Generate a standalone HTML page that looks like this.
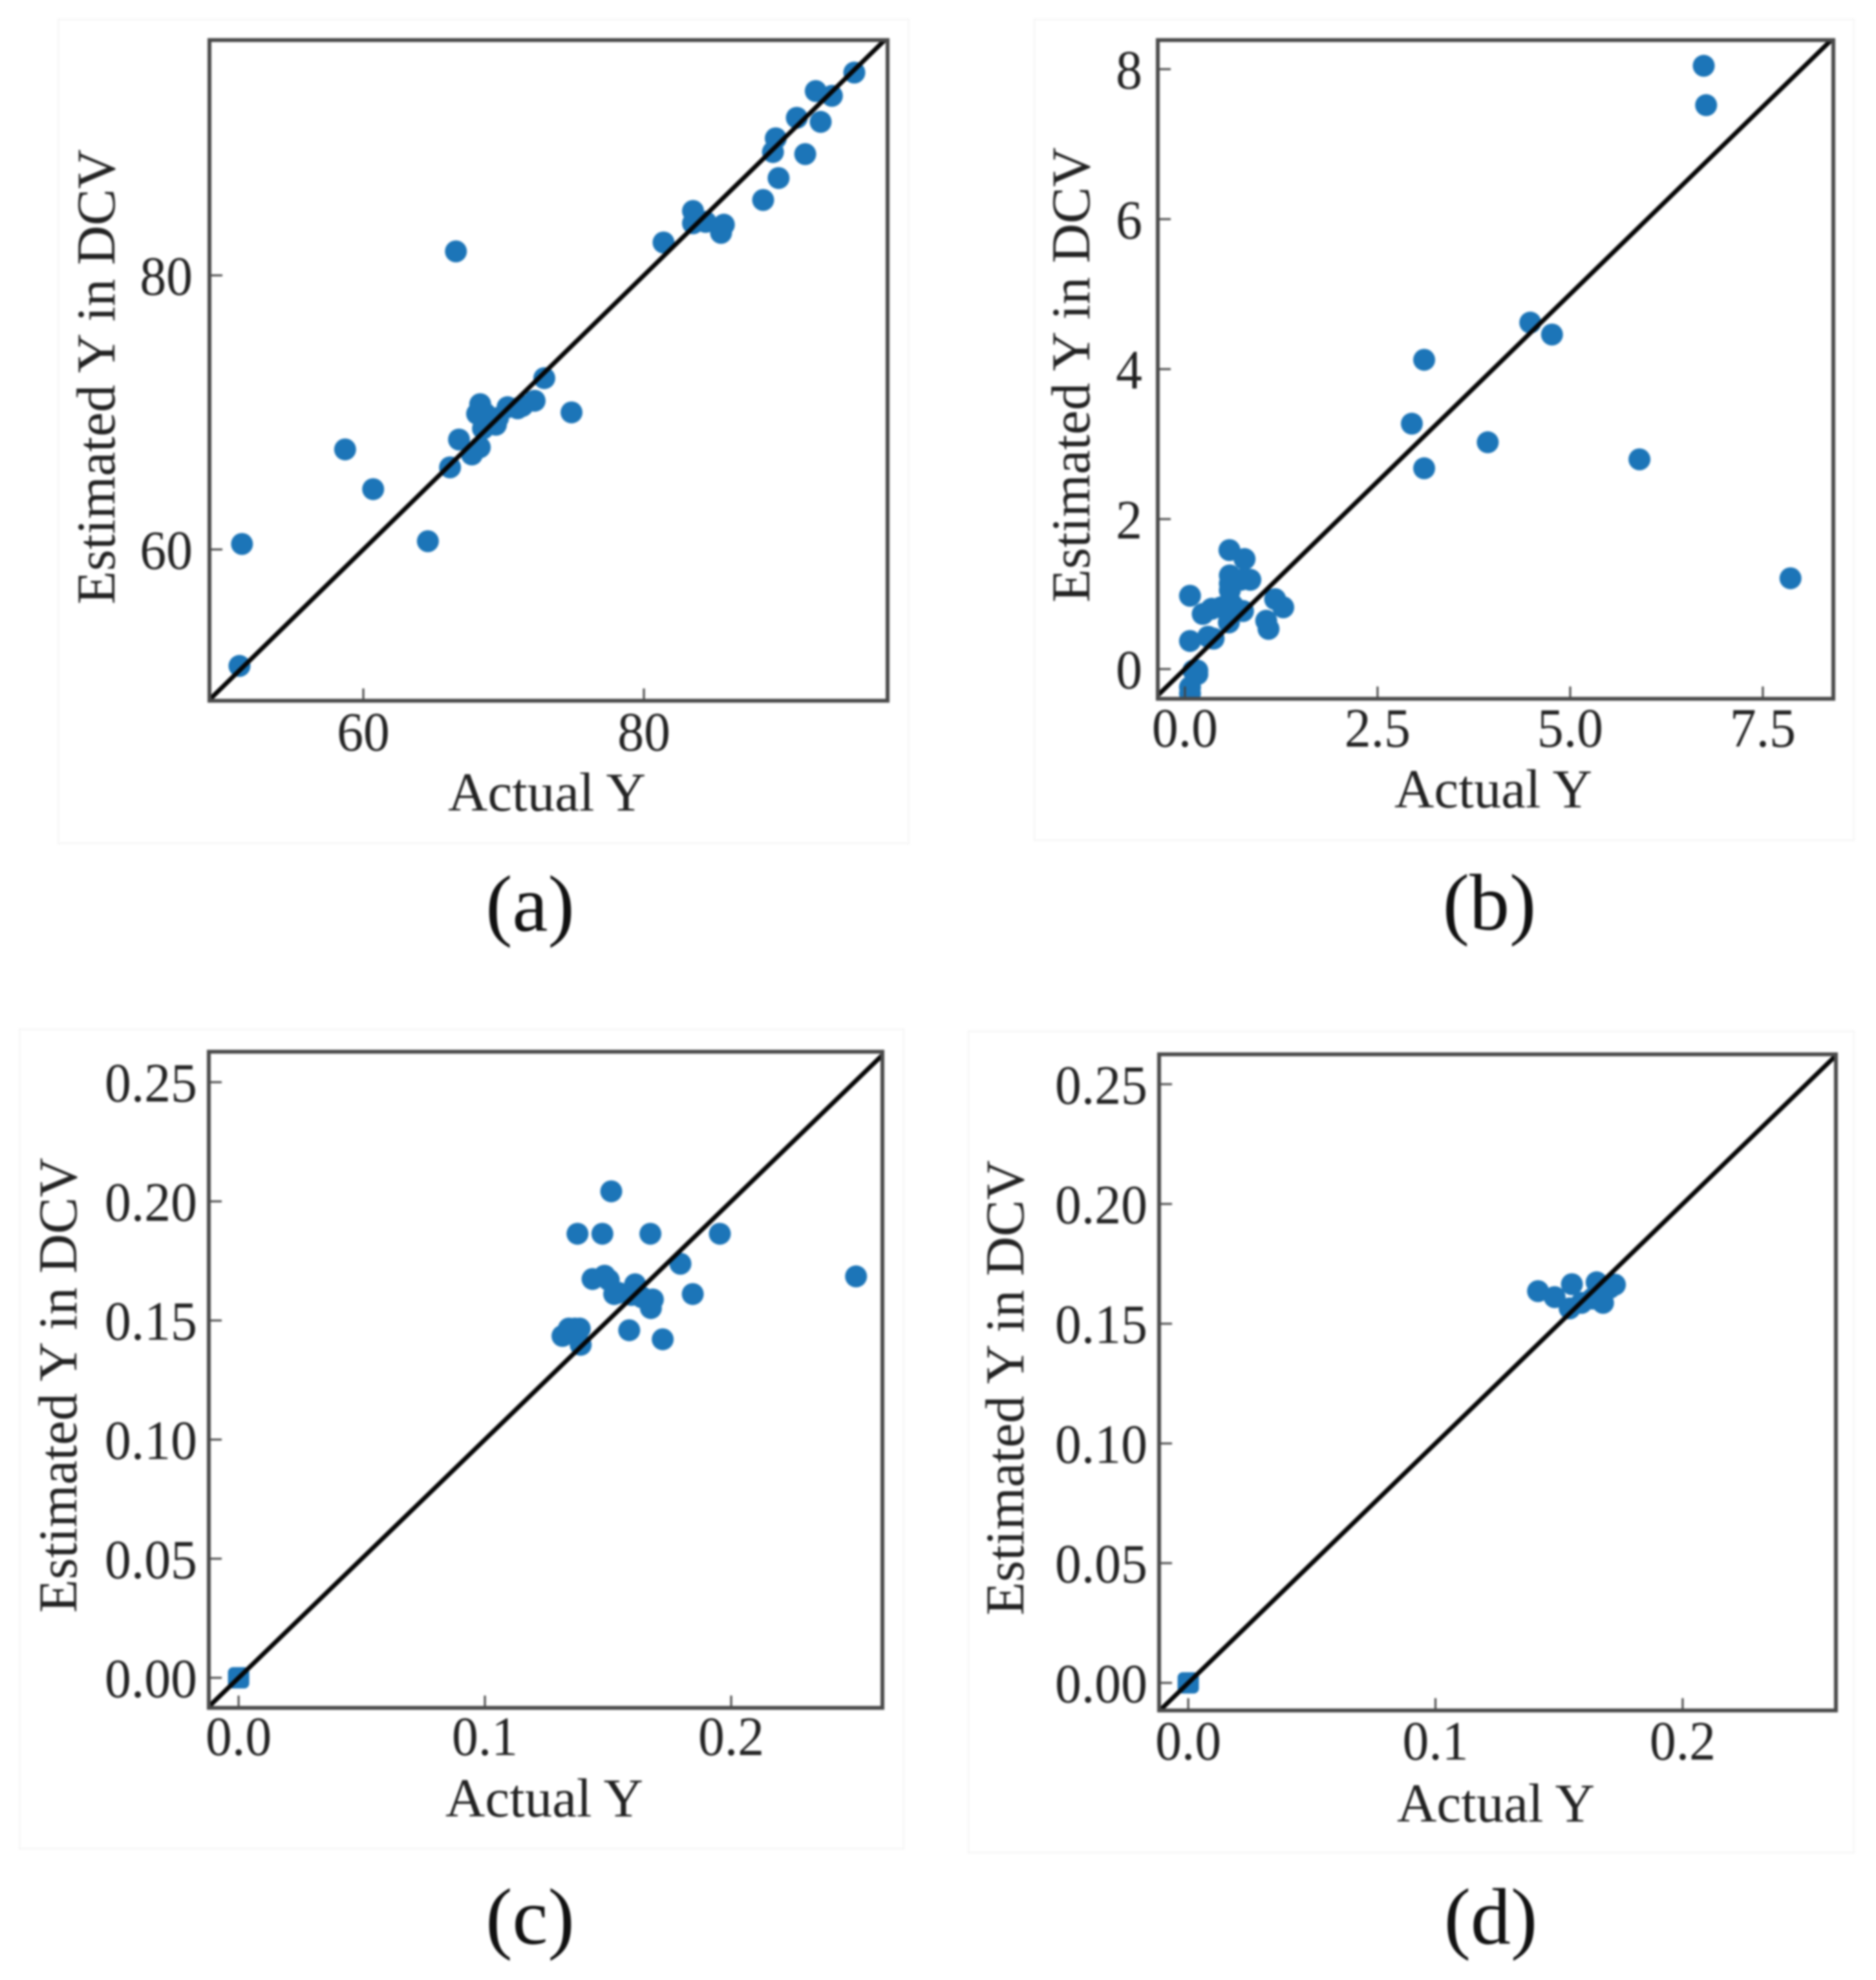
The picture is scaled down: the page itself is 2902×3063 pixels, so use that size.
<!DOCTYPE html>
<html lang="en">
<head>
<meta charset="utf-8">
<title>Actual Y versus Estimated Y in DCV</title>
<style>
html,body{margin:0;padding:0;background:#fff;width:2902px;height:3063px;overflow:hidden}
svg{display:block;filter:blur(1.5px)}
text{font-family:"Liberation Serif",serif;fill:#222}
.cap{font-size:124px;fill:#111;text-anchor:middle}
.axt{font-size:85px}
.tick{font-size:86px}
</style>
</head>
<body>
<svg id="figure" xmlns="http://www.w3.org/2000/svg" width="2902" height="3063" viewBox="0 0 2902 3063">
  <rect x="90" y="30" width="1316" height="1275" fill="#fff" stroke="#f3f3f3" stroke-width="2"/>
  <rect x="1600" y="30" width="1268" height="1270" fill="#fff" stroke="#f3f3f3" stroke-width="2"/>
  <rect x="30" y="1592" width="1368" height="1268" fill="#fff" stroke="#f3f3f3" stroke-width="2"/>
  <rect x="1498" y="1595" width="1370" height="1271" fill="#fff" stroke="#f3f3f3" stroke-width="2"/>

  <g id="panel-a"></g>
  <g id="panel-b"></g>
  <g id="panel-c"></g>
  <g id="panel-d"></g>

  <text class="axt" x="846" y="1254" text-anchor="middle">Actual Y</text>
  <text class="axt" x="0" y="0" text-anchor="middle" transform="translate(177 583) rotate(-90)">Estimated Y in DCV</text>
  <text class="cap" x="820" y="1440">(a)</text>

  <text class="axt" x="2310" y="1249" text-anchor="middle">Actual Y</text>
  <text class="axt" x="0" y="0" text-anchor="middle" transform="translate(1685 580) rotate(-90)">Estimated Y in DCV</text>
  <text class="cap" x="2304" y="1438">(b)</text>

  <text class="axt" x="842" y="2810" text-anchor="middle">Actual Y</text>
  <text class="axt" x="0" y="0" text-anchor="middle" transform="translate(118 2143) rotate(-90)">Estimated Y in DCV</text>
  <text class="cap" x="820" y="3007">(c)</text>

  <text class="axt" x="2314" y="2818" text-anchor="middle">Actual Y</text>
  <text class="axt" x="0" y="0" text-anchor="middle" transform="translate(1583 2147) rotate(-90)">Estimated Y in DCV</text>
  <text class="cap" x="2306" y="3007">(d)</text>
</svg>
<script>
// Panel (a) data
const panelAActual = [51.17,51.35,58.7,60.7,64.6,66.18,66.6,66.82,67.74,68.3,68.33,68.11,68.99,68.53,69.45,70.28,71.34,72.21,72.9,74.84,68.7,69.6,71.0,81.4,83.5,83.5,84.4,85.5,85.7,88.5,89.2,89.4,89.6,90.9,91.5,92.6,92.25,93.4,95.0];
const panelAEstimated = [51.5,60.4,67.3,64.4,60.6,65.99,81.75,68.02,66.93,67.45,70.6,69.9,69.43,68.82,69.1,70.38,70.47,70.85,72.5,70.0,69.9,69.6,70.3,82.4,84.7,83.8,83.9,83.1,83.7,85.5,89.0,90.0,87.1,91.5,88.85,91.2,93.45,93.1,94.8];
const panelAXTicks = [60,80];
const panelAYTicks = [60,80];
const panelAXLabels = ["60","80"];
const panelAYLabels = ["60","80"];

// Panel (b) data
const panelBActual = [6.733,6.764,4.482,4.764,3.105,2.945,3.105,3.93,5.899,7.859,0.578,0.774,0.583,0.849,0.724,0.583,0.066,0.583,0.346,0.231,0.472,0.583,0.754,0.57,1.171,1.276,1.055,1.085,0.066,0.301,0.372,0.161,0.161,0.11,0.066,0.066,0.583,0.62];
const panelBEstimated = [8.045,7.52,4.62,4.461,4.124,3.272,2.677,3.024,2.796,1.21,1.586,1.467,1.249,1.19,1.19,1.14,0.977,0.902,0.803,0.734,0.823,0.763,0.773,0.621,0.932,0.823,0.644,0.535,0.374,0.431,0.406,-0.069,-0.02,-0.02,-0.243,-0.327,1.05,0.85];
const panelBXTicks = [0,2.5,5,7.5];
const panelBYTicks = [0,2,4,6,8];
const panelBXLabels = ["0.0","2.5","5.0","7.5"];
const panelBYLabels = ["0","2","4","6","8"];

// Panel (c) data
const panelCActual = [0,0.1513,0.1376,0.1477,0.1672,0.1954,0.1794,0.1437,0.1486,0.1503,0.1525,0.1542,0.161,0.1595,0.1638,0.1682,0.1674,0.1844,0.1586,0.1722,0.1315,0.1341,0.1385,0.1389,0.1365,0.136,0.2507];
const panelCEstimated = [0,0.2042,0.1864,0.1864,0.1864,0.1864,0.1738,0.1674,0.1688,0.167,0.1611,0.1616,0.1652,0.1607,0.1597,0.1588,0.1552,0.1611,0.1459,0.1421,0.1435,0.1466,0.1466,0.1398,0.1466,0.1445,0.1685];
const panelCXTicks = [0,0.1,0.2];
const panelCYTicks = [0,0.05,0.1,0.15,0.2,0.25];
const panelCXLabels = ["0.0","0.1","0.2"];
const panelCYLabels = ["0.00","0.05","0.10","0.15","0.20","0.25"];

// Panel (d) data
const panelDActual = [0,0.1415,0.1482,0.1552,0.1543,0.1652,0.1726,0.1678,0.1635,0.1591,0.167,0.1705];
const panelDEstimated = [0,0.1636,0.1611,0.1665,0.1564,0.1673,0.1663,0.1587,0.1605,0.1587,0.1627,0.165];
const panelDXTicks = [0,0.1,0.2];
const panelDYTicks = [0,0.05,0.1,0.15,0.2,0.25];
const panelDXLabels = ["0.0","0.1","0.2"];
const panelDYLabels = ["0.00","0.05","0.10","0.15","0.20","0.25"];

const NS = 'http://www.w3.org/2000/svg';

function make(tag, attrs, parent) {
  const el = document.createElementNS(NS, tag);
  for (const k in attrs) el.setAttribute(k, attrs[k]);
  parent.appendChild(el);
  return el;
}

function drawPanel(cfg) {
  const root = document.getElementById(cfg.id);
  const f = cfg.frame;
  const xScale = v => f.left + (v - cfg.xDomain[0]) / (cfg.xDomain[1] - cfg.xDomain[0]) * (f.right - f.left);
  const yScale = v => f.bottom - (v - cfg.yDomain[0]) / (cfg.yDomain[1] - cfg.yDomain[0]) * (f.bottom - f.top);

  const clip = make('clipPath', {id: cfg.id + '-clip'}, root);
  make('rect', {x: f.left, y: f.top, width: f.right - f.left, height: f.bottom - f.top}, clip);

  const plot = make('g', {'clip-path': 'url(#' + cfg.id + '-clip)'}, root);
  
  

  cfg.actual.forEach((a, i) => {
    const px = xScale(a);
    const py = yScale(cfg.estimated[i]);
    let dot;
    if (cfg.squareFirst && i === 0) {
      dot = make('rect', {x: px - 16.5, y: py - 16.5, width: 33, height: 33, rx: 8, fill: '#1c75b8'}, plot);
    } else {
      dot = make('circle', {cx: px, cy: py, r: 17, fill: '#1c75b8'}, plot);
    }
    
    
  });

  const lo = Math.min(cfg.xDomain[0], cfg.yDomain[0]);
  const hi = Math.max(cfg.xDomain[1], cfg.yDomain[1]);
  const diag = make('line', {x1: xScale(lo), y1: yScale(lo), x2: xScale(hi), y2: yScale(hi), stroke: '#050505', 'stroke-width': 7}, plot);
  
  

  cfg.xTicks.forEach((t, i) => {
    const x = xScale(t);
    const mark = make('line', {x1: x, y1: f.bottom, x2: x, y2: f.bottom - 19, stroke: '#444', 'stroke-width': 3}, root);
    
    
    const label = make('text', {x: 0, y: 0, 'text-anchor': 'middle', class: 'tick', transform: 'translate(' + x + ' ' + cfg.xLabelBaseline + ') scale(0.95 1)'}, root);
    label.textContent = cfg.xLabels[i];
    
    
  });

  cfg.yTicks.forEach((t, i) => {
    const y = yScale(t);
    const mark = make('line', {x1: f.left, y1: y, x2: f.left + 20, y2: y, stroke: '#444', 'stroke-width': 3}, root);
    
    
    const label = make('text', {x: 0, y: 0, 'text-anchor': 'end', class: 'tick', transform: 'translate(' + cfg.yLabelRight + ' ' + (y + 30) + ') scale(0.95 1)'}, root);
    label.textContent = cfg.yLabels[i];
    
    
  });

  const border = make('rect', {x: f.left, y: f.top, width: f.right - f.left, height: f.bottom - f.top, fill: 'none', stroke: '#4a4a4a', 'stroke-width': 6}, root);
  
  
}

drawPanel({
  id: 'panel-a',
  frame: {left: 324, right: 1373, top: 62, bottom: 1084},
  xDomain: [49.03, 97.37], yDomain: [48.96, 97.17],
  actual: panelAActual, estimated: panelAEstimated,
  xTicks: panelAXTicks, yTicks: panelAYTicks,
  xLabels: panelAXLabels, yLabels: panelAYLabels,
  xLabelBaseline: 1161, yLabelRight: 298
});
drawPanel({
  id: 'panel-b',
  frame: {left: 1791, right: 2836, top: 62, bottom: 1081},
  xDomain: [-0.352, 8.415], yDomain: [-0.397, 8.388],
  actual: panelBActual, estimated: panelBEstimated,
  xTicks: panelBXTicks, yTicks: panelBYTicks,
  xLabels: panelBXLabels, yLabels: panelBYLabels,
  xLabelBaseline: 1155, yLabelRight: 1767
});
drawPanel({
  id: 'panel-c',
  frame: {left: 323, right: 1365, top: 1627, bottom: 2642},
  xDomain: [-0.0121, 0.2614], yDomain: [-0.0126, 0.2628],
  actual: panelCActual, estimated: panelCEstimated,
  xTicks: panelCXTicks, yTicks: panelCYTicks,
  xLabels: panelCXLabels, yLabels: panelCYLabels,
  xLabelBaseline: 2715, yLabelRight: 305,
  squareFirst: true
});
drawPanel({
  id: 'panel-d',
  frame: {left: 1793, right: 2840, top: 1631, bottom: 2646},
  xDomain: [-0.0118, 0.262], yDomain: [-0.0115, 0.2625],
  actual: panelDActual, estimated: panelDEstimated,
  xTicks: panelDXTicks, yTicks: panelDYTicks,
  xLabels: panelDXLabels, yLabels: panelDYLabels,
  xLabelBaseline: 2722, yLabelRight: 1775,
  squareFirst: true
});
</script>
</body>
</html>
